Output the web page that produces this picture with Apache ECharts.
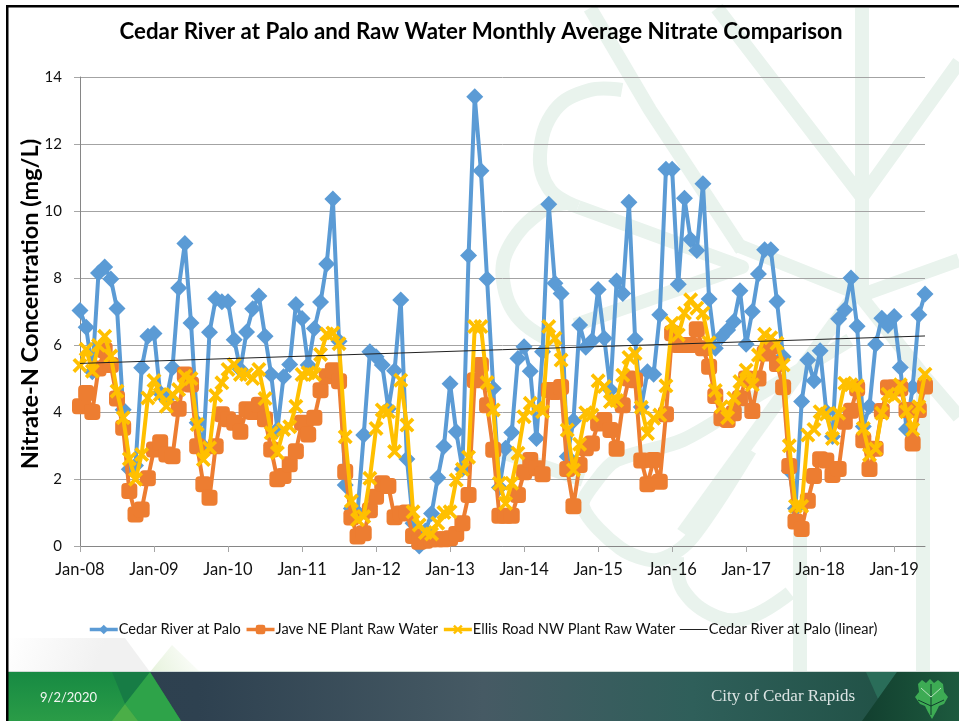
<!DOCTYPE html>
<html><head><meta charset="utf-8">
<style>html,body{margin:0;padding:0;background:#fff}#c{width:959px;height:721px}</style>
<script src="https://cdn.jsdelivr.net/npm/echarts@6/dist/echarts.min.js"></script>
</head><body><div id="c"></div>
<script>
const monthNames = ['Jan','Feb','Mar','Apr','May','Jun','Jul','Aug','Sep','Oct','Nov','Dec'];
const years = ['08','09','10','11','12','13','14','15','16','17','18','19'];
const categories = [];
years.forEach(y => monthNames.forEach(m => categories.push(m + '-' + y)));
categories.length = 138;

const cedarRiver = [7.03,6.53,5.2,8.15,8.33,7.97,7.09,4.07,2.29,2.4,5.32,6.26,6.34,4.57,4.37,5.32,7.7,9.03,6.66,3.68,2.98,6.38,7.38,7.29,7.29,6.16,5.27,6.39,7.08,7.46,6.26,5.12,3.48,5.05,5.42,7.21,6.79,5.4,6.49,7.28,8.42,10.36,6.11,1.82,1.12,1.0,3.31,5.8,5.65,5.4,4.1,5.23,7.34,2.6,0.68,0.0,0.45,0.97,2.04,2.97,4.84,3.41,2.3,8.67,13.41,11.2,7.97,4.7,1.75,2.92,3.39,5.6,5.95,5.22,3.21,5.8,10.2,7.84,7.54,2.67,3.74,6.6,5.93,6.13,7.66,6.2,4.66,7.91,7.54,10.26,6.17,4.15,5.2,5.13,6.9,11.25,11.25,7.81,10.38,9.15,8.82,10.81,7.37,5.9,6.25,6.45,6.7,7.62,6.02,7.0,8.12,8.84,8.84,7.3,5.65,2.25,1.12,4.31,5.55,4.93,5.83,4.01,3.27,6.78,7.05,8.0,6.56,3.57,4.17,6.02,6.8,6.58,6.85,5.33,3.49,4.74,6.9,7.52];
const javeNE = [4.17,4.57,4.0,5.3,5.84,5.4,4.4,3.53,1.64,0.94,1.09,2.02,2.88,3.1,2.73,2.68,4.1,5.12,4.82,2.98,1.84,1.44,2.98,3.93,3.78,3.68,3.41,4.08,4.0,4.22,3.78,2.88,1.99,2.09,2.44,2.83,3.68,3.33,3.83,4.65,5.07,5.25,4.92,2.22,0.85,0.28,0.38,1.07,1.47,1.87,1.79,0.86,0.97,1.0,0.3,0.13,0.16,0.2,0.2,0.2,0.23,0.36,0.68,1.52,4.95,5.4,4.2,2.87,0.9,0.9,0.9,1.52,2.2,2.57,2.32,2.14,4.66,4.6,4.75,2.3,1.19,2.42,2.92,3.06,3.66,3.76,3.46,2.9,4.2,5.0,4.95,2.55,1.84,2.57,1.92,3.93,6.35,6.0,6.0,6.0,6.47,5.9,5.35,4.48,3.81,3.76,3.96,4.41,5.0,4.03,5.0,5.75,5.95,5.43,4.74,2.39,0.73,0.51,1.35,2.09,2.59,2.55,2.12,2.3,3.71,4.04,4.7,3.16,2.3,2.9,4.03,4.73,4.73,4.7,4.06,3.06,4.06,4.76];
const ellisRoad = [5.39,5.87,5.22,5.99,6.26,5.67,4.62,3.83,2.6,1.99,2.73,4.42,4.94,4.52,4.17,4.52,4.67,5.07,5.0,3.63,2.58,2.93,4.49,4.87,5.27,5.42,5.12,5.12,5.0,5.27,4.4,3.38,2.78,3.48,3.56,4.17,5.12,5.17,5.12,5.72,6.33,6.36,6.04,3.26,1.34,0.78,0.88,2.02,3.51,4.06,4.01,2.82,4.95,3.61,1.02,0.63,0.4,0.36,0.68,1.0,1.02,1.97,2.29,2.65,6.55,6.55,4.88,4.06,1.87,1.27,1.87,2.77,3.86,4.26,4.11,4.01,6.55,6.2,5.55,3.46,2.27,3.04,3.98,3.91,4.93,4.76,4.31,4.34,5.1,5.63,5.75,4.14,3.36,3.81,3.91,4.78,6.65,6.3,6.95,7.35,7.1,6.95,6.07,4.64,4.16,3.83,4.41,4.91,5.25,4.81,5.7,6.32,6.22,6.05,5.4,2.99,1.19,1.19,3.31,3.48,4.01,3.94,3.21,3.96,4.86,4.81,4.78,3.51,2.72,2.9,3.96,4.53,4.46,4.81,4.01,3.48,4.16,5.13];
const trendStart = 5.45, trendEnd = 6.27;
const yTicks = {min:0, max:14, interval:2};

const seriesNames = ['Cedar River at Palo','Jave NE Plant Raw Water','Ellis Road NW Plant Raw Water','Cedar River at Palo (linear)'];
const FONT = 'Lato';
const xMark = 'path://M3.5,0 L10,6.5 L16.5,0 L20,3.5 L13.5,10 L20,16.5 L16.5,20 L10,13.5 L3.5,20 L0,16.5 L6.5,10 L0,3.5 Z';
const WM = '#e9f3ed';
function wm(points,smooth){return {type:'polyline',z:-5,silent:true,shape:{points,smooth:smooth||0},style:{stroke:WM,lineWidth:14,fill:null,lineJoin:'round'}};}

const watermark = [
  wm([[862,8],[862,300]]),
  wm([[717,8],[862,197],[959,62]]),
  wm([[590,8],[650,110],[742,250]]),
  wm([[737,245],[862,295],[959,260]]),
  wm([[862,298],[923,375],[923,672]]),
  wm([[862,285],[683,533]]),
  wm([[800,533],[800,672]]),
  wm([[959,417],[923,375]]),
  wm([[622,90],[590,90],[555,110],[540,155],[550,190],[578,207]],0.4),
  wm([[578,207],[742,267],[627,307],[575,325]]),
  wm([[567,203],[543,210],[510,245],[503,280],[520,320],[560,345]],0.4),
  wm([[750,450],[690,540],[657,560],[620,548],[583,507],[597,480],[617,460],[683,440],[750,400],[850,340]],0.3),
  wm([[677,557],[683,590],[717,617],[750,617],[790,593]],0.4),
  wm([[487,447],[583,480]])
];
const footer = [
  {type:'rect',z:4,silent:true,shape:{x:6,y:5,width:953,height:2.5},style:{fill:'#000'}},
  {type:'rect',z:4,silent:true,shape:{x:6,y:5,width:2.5,height:716},style:{fill:'#000'}},
  {type:'polygon',z:-4,silent:true,shape:{points:[[8,672],[8,638],[125,638],[150,672]]},style:{fill:{type:'linear',x:0,y:0,x2:0.6,y2:1,colorStops:[{offset:0,color:'#ffffff'},{offset:1,color:'#f1f1f1'}]}}},
  {type:'polygon',z:-4,silent:true,shape:{points:[[150,672],[172,645],[200,672]]},style:{fill:{type:'linear',x:0,y:1,x2:1,y2:0,colorStops:[{offset:0,color:'#e6f2dc'},{offset:1,color:'#ffffff'}]}}},
  {type:'rect',z:3,silent:true,shape:{x:8,y:671,width:951,height:50},style:{fill:{type:'linear',x:0,y:0,x2:1,y2:0,colorStops:[{offset:0,color:'#2d3f4d'},{offset:0.2,color:'#2e4150'},{offset:0.5,color:'#465a64'},{offset:0.72,color:'#2f5f5a'},{offset:1,color:'#1c4d3f'}]}}},
  {type:'rect',z:3,silent:true,shape:{x:8,y:671,width:951,height:1},style:{fill:'#cfdad6'}},
  {type:'polygon',z:3,silent:true,shape:{points:[[8,672],[150,672],[181,721],[8,721]]},style:{fill:{type:'linear',x:0,y:0,x2:0,y2:1,colorStops:[{offset:0,color:'#178a43'},{offset:1,color:'#2a9c47'}]}}},
  {type:'polygon',z:3,silent:true,shape:{points:[[112,672],[150,672],[125,704]]},style:{fill:'#177c45'}},
  {type:'polygon',z:3,silent:true,shape:{points:[[150,672],[181,721],[138,721],[125,704]]},style:{fill:'#2ea349'}},
  {type:'polygon',z:3,silent:true,shape:{points:[[125,704],[138,721],[112,721]]},style:{fill:'#4bae47'}},
  {type:'polygon',z:3,silent:true,shape:{points:[[866,672],[897,672],[878,699]]},style:{fill:'#2a6d59'}},
  {type:'polygon',z:3,silent:true,shape:{points:[[897,672],[959,672],[959,721],[862,721]]},style:{fill:{type:'linear',x:0,y:0,x2:1,y2:0,colorStops:[{offset:0,color:'#123f2f'},{offset:1,color:'#1d5a3e'}]}}},
  {type:'text',z:5,silent:true,x:40,y:691,style:{text:'9/2/2020',font:'13px '+FONT,fill:'#f2f6f2'}},
  {type:'text',z:5,silent:true,x:711,y:688,style:{text:'City of Cedar Rapids',font:'17px "Liberation Serif"',fill:'#dbe4e3'}},
  {type:'polygon',z:5,silent:true,shape:{points:[[918,684],[922,680],[926,683],[930,679],[934,683],[938,680],[943,684],[944,692],[948,697],[944,704],[939,706],[936,712],[932,719],[928,712],[925,706],[920,704],[915,697],[919,692]]},style:{fill:'#3dab54'}},
  {type:'polyline',z:6,silent:true,shape:{points:[[931,684],[931,715]]},style:{stroke:'#0f3d2c',lineWidth:1,fill:null}},
  {type:'polyline',z:6,silent:true,shape:{points:[[921,688],[931,697],[941,688]]},style:{stroke:'#b8e3bf',lineWidth:1,fill:null}},
  {type:'polyline',z:6,silent:true,shape:{points:[[918,700],[931,706],[944,700]]},style:{stroke:'#0f3d2c',lineWidth:1,fill:null}}
];

const yearTick = i => i % 12 === 0;
const chart = echarts.init(document.getElementById('c'));
chart.setOption({
  animation:false,
  backgroundColor:'#fff',
  textStyle:{fontFamily:FONT},
  title:{text:'Cedar River at Palo and Raw Water Monthly Average Nitrate Comparison',left:476,textAlign:'center',top:16,textStyle:{fontFamily:FONT,fontSize:22.3,fontWeight:'bold',color:'#000'}},
  grid:{left:80,right:34,top:77,bottom:175},
  legend:{left:83,top:617,itemGap:4,itemWidth:28,itemHeight:12,selectedMode:false,lineStyle:{width:3.5},textStyle:{fontFamily:FONT,fontSize:14.6,color:'#111',padding:[0,0,0,-4]},
    data:[seriesNames[0],seriesNames[1],seriesNames[2],{name:seriesNames[3],itemStyle:{opacity:0},lineStyle:{width:1}}]},
  xAxis:{type:'category',boundaryGap:false,data:categories,
    axisLine:{lineStyle:{color:'#868686',width:1}},
    axisTick:{show:true,interval:yearTick,length:6,lineStyle:{color:'#a6a6a6'}},
    axisLabel:{interval:yearTick,margin:15,fontSize:16.5,color:'#111',fontFamily:FONT,hideOverlap:false}},
  yAxis:{type:'value',min:yTicks.min,max:yTicks.max,interval:yTicks.interval,
    name:'Nitrate-N Concentration (mg/L)',nameLocation:'middle',nameGap:38,nameMoveOverlap:false,nameTextStyle:{fontFamily:FONT,fontSize:23.5,fontWeight:'bold',color:'#000',padding:[0,0,0,15]},
    axisLine:{show:true,lineStyle:{color:'#868686'}},
    axisTick:{show:true,length:6,lineStyle:{color:'#a6a6a6'}},
    axisLabel:{margin:18,fontSize:15,color:'#111',fontFamily:FONT},
    splitLine:{show:true,lineStyle:{color:'#a3a3a3',width:1}}},
  series:[
    {name:seriesNames[0],type:'line',data:cedarRiver,z:2,symbol:'diamond',symbolSize:17,showAllSymbol:true,lineStyle:{color:'#5B9BD5',width:4},itemStyle:{color:'#5B9BD5'}},
    {name:seriesNames[1],type:'line',data:javeNE,z:3,symbol:'roundRect',symbolSize:16,showAllSymbol:true,lineStyle:{color:'#ED7D31',width:4},itemStyle:{color:'#ED7D31'}},
    {name:seriesNames[2],type:'line',data:ellisRoad,z:4,symbol:xMark,symbolSize:15,showAllSymbol:true,lineStyle:{color:'#FFC000',width:4},itemStyle:{color:'#FFC000'}},
    {name:seriesNames[3],type:'line',data:[[0,trendStart],[categories.length-1,trendEnd]],z:5,symbol:'none',lineStyle:{color:'#222',width:1},itemStyle:{color:'#222'}}
  ],
  graphic:{elements:watermark.concat(footer)}
});
</script></body></html>
